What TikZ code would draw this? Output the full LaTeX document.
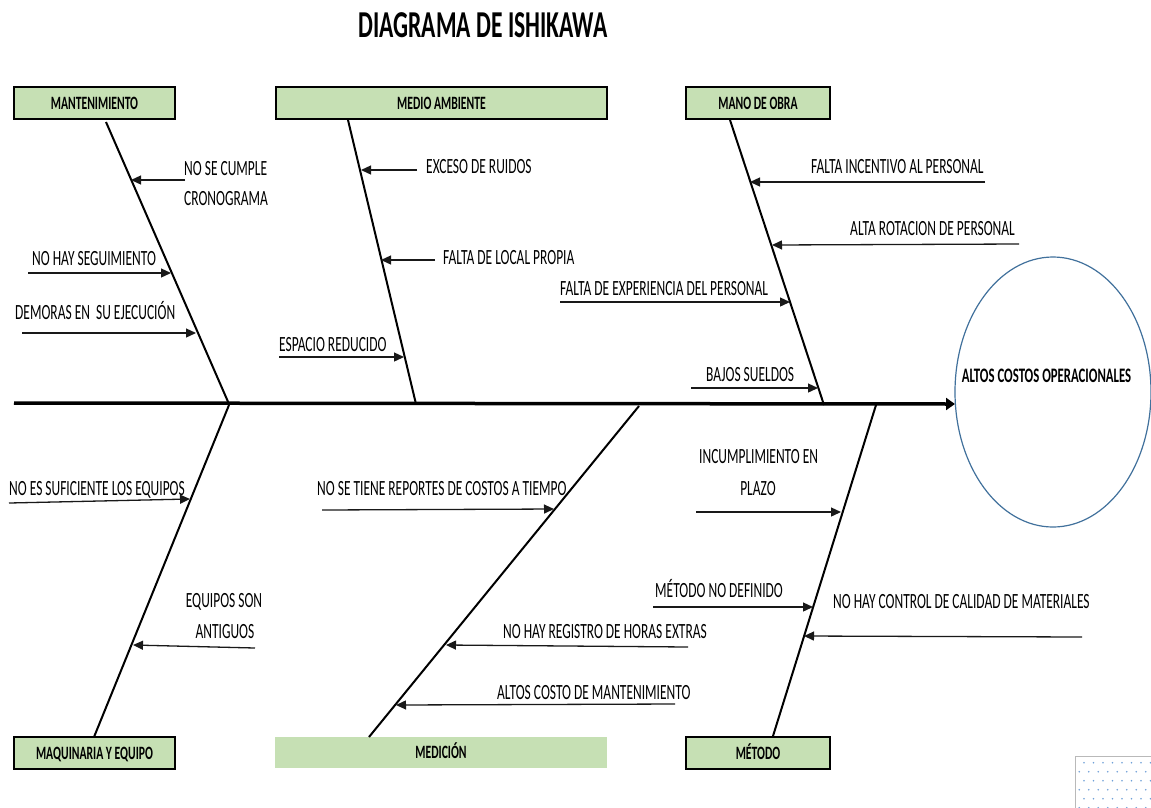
\documentclass[tikz,border=0pt]{standalone}
\usepackage{fontspec}
\setmainfont{Carlito}
\newfontfamily\labfont[FakeStretch=0.62]{Carlito}
\usetikzlibrary{arrows.meta,shapes.geometric}
\definecolor{boxgreen}{HTML}{C6E0B4}
\definecolor{ellblue}{HTML}{41719C}
\definecolor{dotblue}{HTML}{6FA0D8}
\begin{document}
\begin{tikzpicture}[x=1pt,y=-1pt,
  cause/.style={font=\labfont\fontsize{21.7}{21.7}\selectfont, inner sep=0pt, anchor=base west},
  causec/.style={cause, anchor=base},
  catbox/.style={draw=black, line width=2pt, fill=boxgreen, inner sep=0pt,
     minimum height=32pt, text height=12pt, text depth=0pt,
     font=\labfont\bfseries\fontsize{18.8}{18.8}\selectfont},
  bone/.style={line width=2pt, black},
  spine/.style={line width=3.5pt, black, -{Triangle[length=9pt,width=12pt]}},
  sub/.style={line width=1.3pt, black!90, -{Triangle[length=10pt,width=9pt]}}
]
\useasboundingbox (0,0) rectangle (1151,807);
\fill[white] (0,0) rectangle (1151,807);

% title
\node[inner sep=0pt, anchor=base, font=\labfont\bfseries\fontsize{38}{38}\selectfont] (title) at (483,37) {DIAGRAMA DE ISHIKAWA};

% category boxes
\node[catbox, minimum width=161pt] (mant) at (94.5,103) {MANTENIMIENTO};
\node[catbox, minimum width=331pt] (medio) at (441.5,103) {MEDIO AMBIENTE};
\node[catbox, minimum width=144pt] (mano) at (758,103) {MANO DE OBRA};
\node[catbox, minimum width=161pt] (maq) at (94.5,753) {MAQUINARIA Y EQUIPO};
\node[catbox, draw=none, minimum width=332pt, minimum height=31pt] (medic) at (441,752.5) {MEDICI\'ON};
\node[catbox, minimum width=144pt] (metodo) at (758,753) {M\'ETODO};

% effect
\node[ellipse, draw=ellblue, line width=1.2pt, minimum width=196pt, minimum height=270pt, inner sep=0pt] (eff) at (1053,392) {};
\node[inner sep=0pt, anchor=base, text height=13pt, font=\labfont\bfseries\fontsize{20.6}{20.6}\selectfont] (efftxt) at (1046.5,382) {ALTOS COSTOS OPERACIONALES};

% spine
\coordinate (sp0) at (14,403);
\coordinate (spE) at (955,404);
\draw[spine] (sp0) -- (spE);

% bones
\coordinate (mtT) at (106,122); \coordinate (mtB) at (229,404);
\coordinate (maT) at (348,120); \coordinate (maB) at (416,404);
\coordinate (moT) at (730,120); \coordinate (moB) at (824,405);
\coordinate (mqT) at (229,405); \coordinate (mqB) at (94,737);
\coordinate (meT) at (639,406); \coordinate (meB) at (369,737);
\coordinate (mdT) at (876,405); \coordinate (mdB) at (773,736);
\draw[bone] (mtT) -- (mtB);
\draw[bone] (maT) -- (maB);
\draw[bone] (moT) -- (moB);
\draw[bone] (mqT) -- (mqB);
\draw[bone] (meT) -- (meB);
\draw[bone] (mdT) -- (mdB);

% sub-cause arrows
\coordinate (s1) at (185,180);  \coordinate (e1) at (131,180);
\coordinate (s2) at (28,273);   \coordinate (e2) at (171,273);
\coordinate (s3) at (22,333);   \coordinate (e3) at (196,333);
\coordinate (s4) at (417,170);  \coordinate (e4) at (361,170);
\coordinate (s5) at (435,260);  \coordinate (e5) at (381,260);
\coordinate (s6) at (279,357);  \coordinate (e6) at (404,357);
\coordinate (s7) at (985,182);  \coordinate (e7) at (750,182);
\coordinate (s8) at (1019,244); \coordinate (e8) at (772,245);
\coordinate (s9) at (560,302);  \coordinate (e9) at (790,302);
\coordinate (s10) at (691,388); \coordinate (e10) at (818,388);
\coordinate (s11) at (9,503);   \coordinate (e11) at (190,499);
\coordinate (s12) at (255,648); \coordinate (e12) at (133,645);
\coordinate (s13) at (322,510); \coordinate (e13) at (554,509);
\coordinate (s14) at (688,647); \coordinate (e14) at (446,645);
\coordinate (s15) at (675,704); \coordinate (e15) at (396,705);
\coordinate (s16) at (696,512); \coordinate (e16) at (841,512);
\coordinate (s17) at (653,607); \coordinate (e17) at (813,607);
\coordinate (s18) at (1082,637);\coordinate (e18) at (804,636);
\foreach \i in {1,...,18} { \draw[sub] (s\i) -- (e\i); }

% labels
\node[cause] (t1a) at (184,175) {NO SE CUMPLE};
\node[cause] (t1b) at (184,205) {CRONOGRAMA};
\node[cause] (t2) at (32,265) {NO HAY SEGUIMIENTO};
\node[cause] (t3) at (15,319) {DEMORAS EN\ \ SU EJECUCI\'ON};
\node[cause] (t4) at (426,173) {EXCESO DE RUIDOS};
\node[cause] (t5) at (443,264) {FALTA DE LOCAL PROPIA};
\node[cause] (t6) at (279,351) {ESPACIO REDUCIDO};
\node[cause] (t7) at (811,173) {FALTA INCENTIVO AL PERSONAL};
\node[cause] (t8) at (850,235) {ALTA ROTACION DE PERSONAL};
\node[cause] (t9) at (560,295) {FALTA DE EXPERIENCIA DEL PERSONAL};
\node[cause] (t10) at (706,381) {BAJOS SUELDOS};
\node[cause] (t11) at (9,495) {NO ES SUFICIENTE LOS EQUIPOS};
\node[causec] (t12a) at (224,607) {EQUIPOS SON};
\node[causec] (t12b) at (225,638) {ANTIGUOS};
\node[cause] (t13) at (317,495) {NO SE TIENE REPORTES DE COSTOS A TIEMPO};
\node[cause] (t14) at (503,638) {NO HAY REGISTRO DE HORAS EXTRAS};
\node[cause] (t15) at (497,699) {ALTOS COSTO DE MANTENIMIENTO};
\node[cause] (t16a) at (699,463) {INCUMPLIMIENTO EN};
\node[causec] (t16b) at (758,495) {PLAZO};
\node[cause] (t17) at (655,597) {M\'ETODO NO DEFINIDO};
\node[cause] (t18) at (833,608) {NO HAY CONTROL DE CALIDAD DE MATERIALES};

% dotted placeholder box bottom right
\begin{scope}
\clip (0,0) rectangle (1151,807);
\draw[gray!55, line width=1pt] (1075,756) rectangle (1160,812);
\foreach \r in {0,...,5} {
  \foreach \c in {0,...,8} {
    \fill[dotblue] ({1084+9.5*\c-4.7*mod(\r,2)}, {762.7+9*\r}) circle (0.9);
  }
}
\end{scope}
\end{tikzpicture}
\end{document}
